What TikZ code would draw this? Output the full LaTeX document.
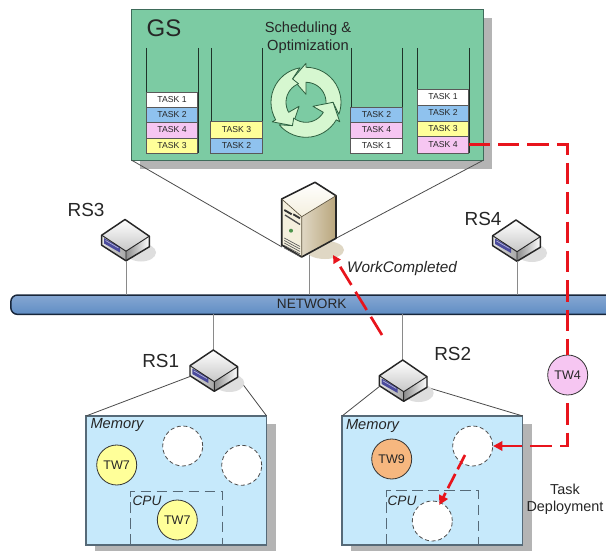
\documentclass[tikz,border=0pt]{standalone}
\usepackage{fontspec}
\setmainfont{Liberation Sans}
\usetikzlibrary{arrows.meta,calc}
\definecolor{gsgreen}{HTML}{7CCBA3}
\definecolor{gsedge}{HTML}{3E6B5A}
\definecolor{shadowgray}{HTML}{B4B4B4}
\definecolor{membg}{HTML}{C6E9FB}
\definecolor{memedge}{HTML}{566A78}
\definecolor{taskblue}{HTML}{8FC2EE}
\definecolor{taskpink}{HTML}{F6C6F2}
\definecolor{taskyellow}{HTML}{FFFF99}
\definecolor{tworange}{HTML}{F6B77F}
\definecolor{inkgray}{HTML}{262626}
\definecolor{redline}{HTML}{E8141C}
\definecolor{linkgray}{HTML}{8A8A8A}
\definecolor{cyclefill}{HTML}{D6F7D0}
\definecolor{cycleedge}{HTML}{2E6040}
\definecolor{srvtan}{HTML}{B9A67C}
\definecolor{srvcream}{HTML}{F4EFDD}
\definecolor{nettop}{HTML}{86A7D2}
\definecolor{netmid}{HTML}{BCD0E8}
\definecolor{netbot}{HTML}{5F8DC4}
\definecolor{netedge}{HTML}{18263A}
\definecolor{portblue}{HTML}{4A4A9C}
\tikzset{
  txt/.style={text=inkgray,inner sep=0pt,align=center},
  rslabel/.style={txt,font=\fontsize{14.2}{16}\selectfont},
  tasktext/.style={font=\fontsize{6.5}{7}\selectfont},
  taskbox/.style={draw=black!65,line width=.6pt,inner sep=0pt,outer sep=0pt,text=inkgray,tasktext},
  wall/.style={draw=black!75!gsgreen,line width=.75pt},
  cyclearrow/.style={draw=cycleedge,line width=.6pt,fill=cyclefill,line join=round},
  funnel/.style={draw=black!70,line width=.6pt},
  link/.style={draw=linkgray,line width=.75pt},
  boxshadow/.style={fill=shadowgray,draw=none},
  membox/.style={draw=memedge,fill=membg,line width=1pt,inner sep=0pt,outer sep=0pt,minimum width=135.5pt,minimum height=96.75pt},
  cpubox/.style={draw=memedge,line width=.7pt,dash pattern=on 8pt off 4pt},
  memtext/.style={txt,font=\fontsize{11}{13}\selectfont\itshape},
  cputext/.style={txt,font=\fontsize{10.2}{12}\selectfont\itshape},
  token/.style={circle,draw=black!80,line width=.6pt,minimum size=30pt,inner sep=0pt,text=inkgray,font=\fontsize{9.4}{10}\selectfont},
  freeslot/.style={circle,draw=black!70,fill=white,line width=.6pt,dash pattern=on 3pt off 2pt,minimum size=30pt,inner sep=0pt},
  reddash/.style={draw=redline,line width=2pt,dash pattern=on 16pt off 6pt},
  redtip/.style={-{Triangle[length=7pt,width=7pt,fill=redline]}},
  smalltip/.style={-{Triangle[length=6pt,width=6pt,fill=redline]}},
  router/.pic={
    \fill[black!13] (16,33) ellipse [x radius=15, y radius=9];
    \shade[left color=black!10,right color=black!35] (-23.3,15.7) -- (1,31.7) -- (1,41.3) -- (-23.3,25.7) -- cycle;
    \shade[left color=black!45,right color=white] (1,31.7) -- (24.3,16.7) -- (24.3,27.3) -- (1,41.3) -- cycle;
    \shade[top color=white,bottom color=black!22] (0,0) -- (24.3,16.7) -- (1,31.7) -- (-23.3,15.7) -- cycle;
    \fill[portblue] (-21,18.5) -- (-5,27.5) -- (-5,33) -- (-21,24) -- cycle;
    \draw[portblue!40!white,line width=.5pt] (-19.5,21) -- (-6.5,28.5);
    \draw[black!85,line width=1.1pt,line join=round] (0,0) -- (24.3,16.7) -- (24.3,27.3) -- (1,41.3) -- (-23.3,25.7) -- (-23.3,15.7) -- cycle;
    \draw[black!85,line width=.7pt] (-23.3,15.7) -- (1,31.7) -- (24.3,16.7) (1,31.7) -- (1,41.3);
    \coordinate (-bot) at (1,41.3);
    \coordinate (-bl) at (-23.3,26.5);
    \coordinate (-br) at (24.3,27.3);
  }
}
\newcommand{\taskrow}[6]{\node[taskbox,fill=#5,minimum width=51.5*.75pt,minimum height=#4*.75pt] (#1) at (#2,#3) {#6};}
\begin{document}
\begin{tikzpicture}[x=.75pt,y=-.75pt]
\useasboundingbox (0,0) rectangle (606,552);
\clip (0,0) rectangle (606,552);
\fill[white] (0,0) rectangle (606,552);

% ---- top box
\fill[boxshadow] (140,18) rectangle (492,169);
\node[draw=gsedge,fill=gsgreen,line width=1pt,inner sep=0pt,outer sep=0pt,minimum width=263.6pt,minimum height=112.9pt] (gs) at (307.5,85) {};
\node[txt,font=\fontsize{18}{20}\selectfont] (gslabel) at (164,28) {GS};
\node[txt,font=\fontsize{11}{13.5}\selectfont] (sched) at (308,37.5) {Scheduling \&\\Optimization};

% stacks
\foreach \xa in {146,198,211,262,351,402,417,469} \draw[wall] (\xa,48) -- (\xa,153);
\taskrow{a1}{172}{99.5}{15}{white}{TASK 1}
\taskrow{a2}{172}{114.5}{15}{taskblue}{TASK 2}
\taskrow{a3}{172}{130}{16}{taskpink}{TASK 4}
\taskrow{a4}{172}{145.5}{15}{taskyellow}{TASK 3}
\taskrow{b1}{236.5}{129.5}{17}{taskyellow}{TASK 3}
\taskrow{b2}{236.5}{145.5}{15}{taskblue}{TASK 2}
\taskrow{c1}{376.5}{114.5}{15}{taskblue}{TASK 2}
\taskrow{c2}{376.5}{130}{16}{taskpink}{TASK 4}
\taskrow{c3}{376.5}{145.5}{15}{white}{TASK 1}
\taskrow{d1}{443}{97}{16}{white}{TASK 1}
\taskrow{d2}{443}{113}{16}{taskblue}{TASK 2}
\taskrow{d3}{443}{128.5}{15}{taskyellow}{TASK 3}
\taskrow{d4}{443}{144.5}{17}{taskpink}{TASK 4}

% cycle arrows
\begin{scope}[shift={(306,102.3)}]
\foreach \b in {90,210,330}{
  \pgfmathsetmacro{\tipa}{-(\b+30)}
  \pgfmathsetmacro{\oa}{\b-110}
  \pgfmathsetmacro{\ia}{\b-98}
  \pgfmathsetmacro{\na}{-(\b-90)}
  \filldraw[cyclearrow] ({-\b}:8) -- (\tipa:27) -- ({-\b}:39)
    -- plot[domain=\b:\oa,samples=16] ({-\x}:35)
    -- (\na:27) -- ({-\ia}:20)
    -- plot[domain=\ia:\b,samples=14] ({-\x}:20) -- cycle;
}
\end{scope}

% ---- funnels from GS to the server
\coordinate (srvL) at (282,247);
\coordinate (srvR) at (336,238.3);
\draw[funnel] (gs.south west) -- (srvL);
\draw[funnel] (gs.south east) -- (srvR);

% ---- network
\node[draw=netedge,line width=1.1pt,rounded corners=5pt,top color=nettop,middle color=netmid,bottom color=netbot,minimum width=472pt,minimum height=14.5pt,inner sep=0pt,outer sep=0pt] (net) at (325.5,304.7) {};
\node[txt,font=\fontsize{10.2}{12}\selectfont] (netlabel) at (311.7,303.5) {NETWORK};

% ---- server
\fill[srvtan!45] (325,250) ellipse [x radius=19, y radius=9];
\coordinate (srvBase) at (309,255);
\draw[link] (srvBase) -- (srvBase |- net.north);
\shade[left color=srvtan!45,right color=srvtan] (301.7,216.7) -- (336,195.7) -- (336,238.3) -- (301.7,257) -- cycle;
\shade[top color=white,bottom color=srvcream] (315,182.3) -- (336,195.7) -- (301.7,216.7) -- (281.7,199) -- cycle;
\fill[srvcream] (281.7,199) -- (301.7,216.7) -- (301.7,257) -- (281.7,245) -- cycle;
\draw[black!85,line width=1.2pt,line join=round] (315,182.3) -- (336,195.7) -- (336,238.3) -- (301.7,257) -- (281.7,245) -- (281.7,199) -- cycle;
\draw[black!50!srvtan,line width=.5pt] (281.7,199) -- (301.7,216.7) -- (336,195.7) (301.7,216.7) -- (301.7,257);
\draw[black!80,line width=1.4pt] (284.3,210) -- (291.7,214.3) (293.3,214.3) -- (300,218.3);
\draw[black!70,line width=1pt] (285,215) -- (300,224.5);
\fill[green!40!black!70] (291,230.7) circle [radius=2];
\foreach \d in {0,2.5,5,7.5,10} \draw[black!65,line width=.5pt] (284.3,{238+\d}) -- (300,{246.5+\d});

% ---- routers, labels, links
\pic (rs3) at (125,219.5) {router};
\pic (rs4) at (516,220) {router};
\draw[link] (rs3-bot) -- (rs3-bot |- net.north);
\draw[link] (rs4-bot) -- (rs4-bot |- net.north);
\node[rslabel] (rs3label) at (86,210) {RS3};
\node[rslabel] (rs4label) at (483,219) {RS4};
\node[rslabel] (rs1label) at (160.7,361) {RS1};
\node[rslabel] (rs2label) at (452.7,354) {RS2};

% ---- memory boxes
\fill[boxshadow] (95,424) rectangle (276,551);
\fill[boxshadow] (351,424) rectangle (532,551);
\node[membox] (m1) at (176.3,480.5) {};
\node[membox] (m2) at (432.4,480.5) {};
\coordinate (rs1top) at (213.3,350);
\coordinate (rs2top) at (402.7,360);
\draw[funnel] (m1.north west) -- ($(rs1top)+(-23.3,26.5)$);
\draw[funnel] (m1.north east) -- ($(rs1top)+(24.3,27.3)$);
\draw[funnel] (m2.north west) -- ($(rs2top)+(-23.3,26.5)$);
\draw[funnel] (m2.north east) -- ($(rs2top)+(24.3,27.3)$);
\draw[link] (rs1top |- net.south) -- (rs1top);
\draw[link] (rs2top |- net.south) -- (rs2top);
\pic (rs1) at (rs1top) {router};
\pic (rs2) at (rs2top) {router};

\node[memtext] (mt1) at (117,425) {Memory};
\node[memtext] (mt2) at (372.5,426) {Memory};
\draw[cpubox] (130.7,545) -- (130.7,491) -- (222,491) -- (222,545);
\draw[cpubox] (386.7,545) -- (386.7,490.7) -- (478.3,490.7) -- (478.3,545);
\node[cputext] (cp1) at (147,501) {CPU};
\node[cputext] (cp2) at (402,501) {CPU};

\node[freeslot] (f1) at (182.7,446) {};
\node[freeslot] (f2) at (241.7,465.3) {};
\node[token,fill=taskyellow] (t1) at (116.7,465) {TW7};
\node[token,fill=taskyellow] (t2) at (177.3,520) {TW7};
\node[token,fill=tworange] (t3) at (391.7,459) {TW9};
\node[freeslot] (f3) at (472.7,446) {};
\node[freeslot] (f4) at (432.3,521) {};
\node[token,fill=taskpink] (tw4) at (567.7,375) {TW4};

\node[txt,font=\fontsize{10.8}{13}\selectfont] (dep) at (565,499.5) {Task\\Deployment};
\node[txt,font=\fontsize{11.5}{14}\selectfont\itshape] (wc) at (402,269) {WorkCompleted};

% ---- red connectors
\draw[reddash] (d4.east) -| (tw4.north);
\draw[reddash,redtip,shorten <=6pt] (tw4.south) |- (f3.east);
\coordinate (wcstart) at (382,335);
\coordinate (wcend) at (333,255);
\draw[reddash,smalltip] (wcstart) -- (wcend);
\coordinate (dstart) at (465,455);
\coordinate (dend) at (439.3,505);
\draw[reddash,redtip,dash pattern=on 12pt off 4pt] (dstart) -- (dend);
\end{tikzpicture}
\end{document}
